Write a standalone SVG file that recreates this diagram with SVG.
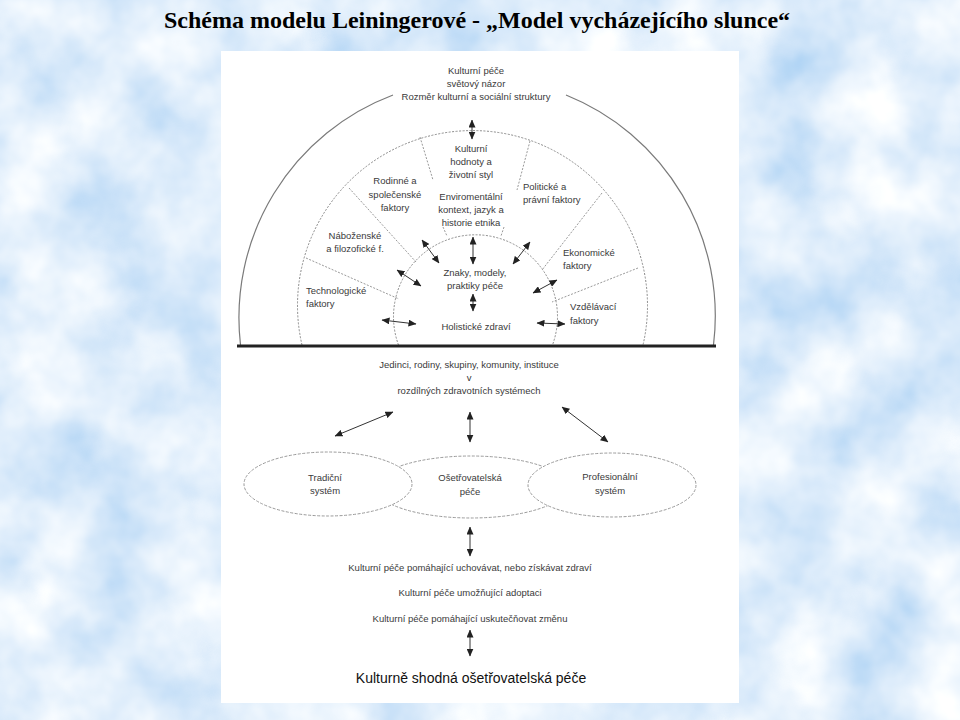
<svg xmlns="http://www.w3.org/2000/svg" width="960" height="720" viewBox="0 0 960 720">
<defs>
<filter id="clouds" x="0" y="0" width="100%" height="100%">
<feTurbulence type="fractalNoise" baseFrequency="0.012" numOctaves="4" seed="7"/>
<feColorMatrix type="matrix" values="0.8 0 0 0 0.34  0.5 0 0 0 0.6  0.15 0 0 0 0.89  0 0 0 0 1"/>
</filter>
<marker id="ah" viewBox="0 0 8 7" refX="7.5" refY="3.5" markerWidth="8" markerHeight="7" markerUnits="userSpaceOnUse" orient="auto-start-reverse">
<path d="M0,0 L8,3.5 L0,7 z" fill="#222"/>
</marker>
<style>
.t{font-family:"Liberation Sans",Arial,sans-serif;font-size:9.5px;fill:#3a3a3a}
.c{text-anchor:middle}
.big{font-size:14px;fill:#111}
.title{font-family:"Liberation Serif","Times New Roman",serif;font-weight:bold;font-size:24px;fill:#000;text-anchor:middle}
.ring{fill:none;stroke:#8a8a8a;stroke-width:1;stroke-dasharray:2 1.5}
.sep{fill:none;stroke:#9a9a9a;stroke-width:1;stroke-dasharray:2 1.5}
.outer{fill:none;stroke:#7a7a7a;stroke-width:1.2}
.ell{fill:#fff;stroke:#9a9a9a;stroke-width:1;stroke-dasharray:3 1.5}
.arr{stroke:#333;stroke-width:1;fill:none;marker-start:url(#ah);marker-end:url(#ah)}
</style>
</defs>
<rect x="0" y="0" width="960" height="720" fill="#c2d9f3"/>
<rect x="0" y="0" width="960" height="720" filter="url(#clouds)"/>
<text class="title" x="477" y="28">Schéma modelu Leiningerové - „Model vycházejícího slunce“</text>
<rect x="221" y="51" width="518" height="652" fill="#fff"/>

<g id="sun">
<path class="outer" d="M 240.5 345 A 238 238 0 0 1 393 95"/>
<path class="outer" d="M 566 95 A 238 238 0 0 1 713.5 345"/>
<path class="ring" d="M 302 345 A 175 175 0 1 1 643 345"/>
<path class="ring" d="M 398.5 345 A 82 82 0 1 1 552.5 345"/>
<line x1="237" y1="346" x2="716" y2="346" stroke="#222" stroke-width="3"/>
</g>
<g id="separators">
<line class="sep" x1="306" y1="258" x2="399" y2="299"/>
<line class="sep" x1="349" y1="188" x2="416" y2="262"/>
<line class="sep" x1="420" y1="137" x2="433" y2="180"/>
<line class="sep" x1="443" y1="227" x2="447" y2="236"/>
<line class="sep" x1="530" y1="141" x2="517" y2="190"/>
<line class="sep" x1="504" y1="227" x2="501" y2="236"/>
<line class="sep" x1="602" y1="193" x2="542" y2="270"/>
<line class="sep" x1="638" y1="268" x2="552" y2="302"/>
</g>

<g id="n-outer"><text class="t c" x="476" y="73.5">Kulturní péče</text><text class="t c" x="476" y="86.5">světový názor</text><text class="t c" x="476" y="99.5">Rozměr kulturní a sociální struktury</text></g>
<g id="n-hodnoty"><text class="t c" x="471" y="151.5">Kulturní</text><text class="t c" x="471" y="164.5">hodnoty a</text><text class="t c" x="471" y="177.5">životní styl</text></g>
<g id="n-env"><text class="t c" x="471" y="199.5">Enviromentální</text><text class="t c" x="471" y="212.5">kontext, jazyk a</text><text class="t c" x="471" y="225.5">historie etnika</text></g>
<g id="n-znaky"><text class="t c" x="475" y="275.5">Znaky, modely,</text><text class="t c" x="475" y="288.5">praktiky péče</text></g>
<g id="n-holist"><text class="t c" x="476" y="329.5">Holistické zdraví</text></g>
<g id="n-rodinne"><text class="t c" x="395" y="183.5">Rodinné a</text><text class="t c" x="395" y="197.5">společenské</text><text class="t c" x="395" y="210.5">faktory</text></g>
<g id="n-nabozenske"><text class="t c" x="355" y="238.5">Náboženské</text><text class="t c" x="355" y="251.5">a filozofické f.</text></g>
<g id="n-techno"><text class="t" x="306" y="293.5">Technologické</text><text class="t" x="306" y="306.5">faktory</text></g>
<g id="n-politicke"><text class="t" x="523" y="189.5">Politické a</text><text class="t" x="523" y="202.5">právní faktory</text></g>
<g id="n-ekonom"><text class="t" x="563" y="255.5">Ekonomické</text><text class="t" x="563" y="268.5">faktory</text></g>
<g id="n-vzdel"><text class="t" x="570" y="309.5">Vzdělávací</text><text class="t" x="570" y="323.5">faktory</text></g>

<g id="n-jedinci"><text class="t c" x="469" y="367.5">Jedinci, rodiny, skupiny, komunity, instituce</text><text class="t c" x="469" y="380.5">v</text><text class="t c" x="469" y="393.5">rozdílných zdravotních systémech</text></g>

<g id="n-osetr"><ellipse class="ell" cx="471" cy="487" rx="96" ry="31"/><text class="t c" x="470" y="480.5">Ošetřovatelská</text><text class="t c" x="470" y="494.5">péče</text></g>
<g id="n-tradicni"><ellipse class="ell" cx="328" cy="484" rx="84" ry="32"/><text class="t c" x="325" y="480.5">Tradiční</text><text class="t c" x="325" y="493.5">systém</text></g>
<g id="n-profes"><ellipse class="ell" cx="612" cy="485" rx="84" ry="32"/><text class="t c" x="610" y="479.5">Profesionální</text><text class="t c" x="610" y="493.5">systém</text></g>

<g id="n-pece"><text class="t c" x="470" y="570.5">Kulturní péče pomáhající uchovávat, nebo získávat zdraví</text><text class="t c" x="470" y="595.5">Kulturní péče umožňující adoptaci</text><text class="t c" x="470" y="621.5">Kulturní péče pomáhající uskutečňovat změnu</text></g>
<g id="n-final"><text class="t c big" x="471" y="683">Kulturně shodná ošetřovatelská péče</text></g>

<g id="connectors">
<line class="arr" x1="472" y1="120" x2="472" y2="139"/>
<line class="arr" x1="473" y1="237" x2="473" y2="264"/>
<line class="arr" x1="473" y1="294" x2="473" y2="311"/>
<line class="arr" x1="422" y1="240" x2="439" y2="263"/>
<line class="arr" x1="397" y1="270" x2="421" y2="286"/>
<line class="arr" x1="382" y1="320" x2="416" y2="324"/>
<line class="arr" x1="530" y1="242" x2="513" y2="264"/>
<line class="arr" x1="557" y1="280" x2="533" y2="293"/>
<line class="arr" x1="537" y1="323" x2="565" y2="324"/>
<line class="arr" x1="335" y1="436" x2="393" y2="412"/>
<line class="arr" x1="470" y1="412" x2="470" y2="442"/>
<line class="arr" x1="562" y1="407" x2="608" y2="442"/>
<line class="arr" x1="470" y1="527" x2="470" y2="556"/>
<line class="arr" x1="470" y1="630" x2="470" y2="656"/>
</g>
</svg>
